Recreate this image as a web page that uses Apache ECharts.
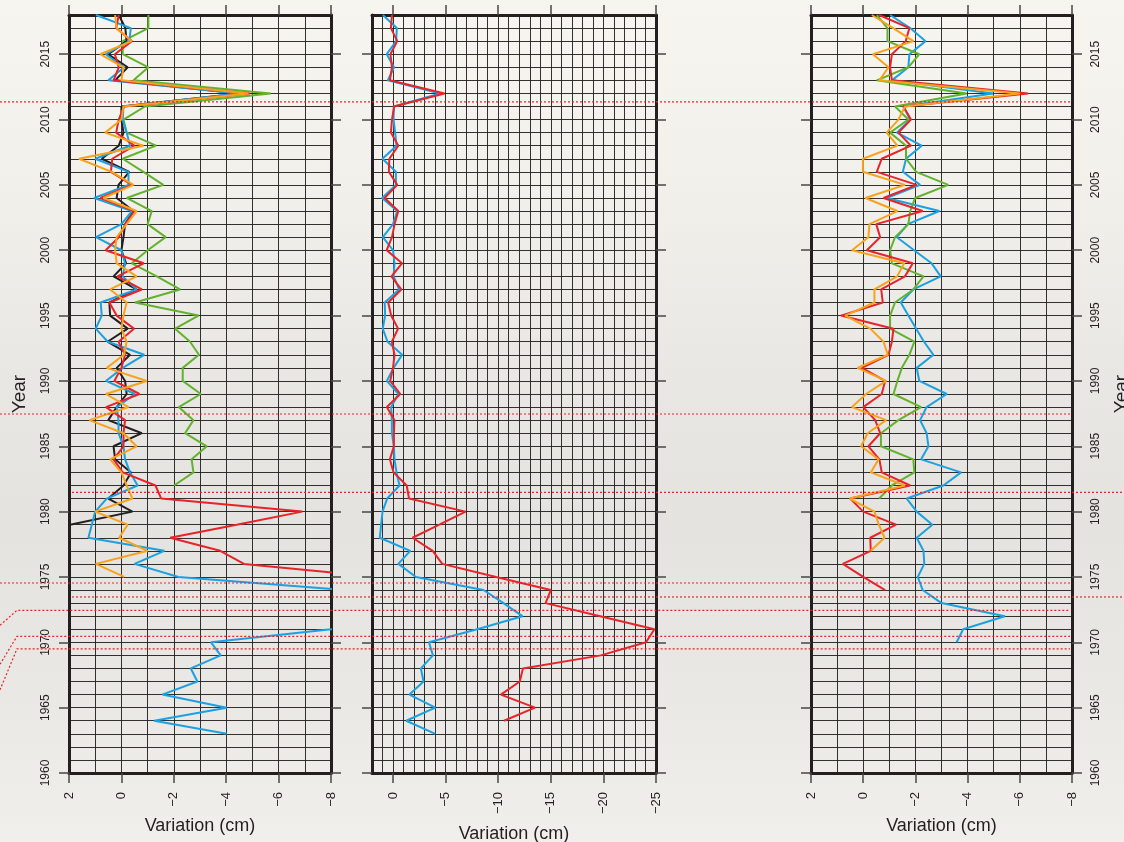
<!DOCTYPE html>
<html><head><meta charset="utf-8">
<script src="https://cdn.jsdelivr.net/npm/echarts@6/dist/echarts.min.js"></script>
<style>
html,body{margin:0;padding:0;}
#chart{width:1124px;height:842px;background:linear-gradient(180deg,#f7f5f0 0%,#f2f0eb 22%,#e9e7e3 45%,#e5e3df 62%,#eae8e4 82%,#f1efeb 100%);}
</style></head><body><div id="chart"></div>
<script>
// Years, top (2018) to bottom (1963); series values are aligned by index
const years = [2018,2017,2016,2015,2014,2013,2012,2011,2010,2009,
  2008,2007,2006,2005,2004,2003,2002,2001,2000,1999,
  1998,1997,1996,1995,1994,1993,1992,1991,1990,1989,
  1988,1987,1986,1985,1984,1983,1982,1981,1980,1979,
  1978,1977,1976,1975,1974,1973,1972,1971,1970,1969,
  1968,1967,1966,1965,1964,1963];

// Panels 1 & 2 (same series, different scale)
const blueA = [0.97,-0.36,-0.3,0.6,-0.1,0.5,-4.5,-0.08,-0.05,-0.2,
  -0.33,1.0,-0.27,-0.27,1.04,-0.4,0,0.97,0,-0.14,
  -0.05,-0.58,0.79,0.75,0.98,0.52,-0.87,-0.05,0.59,-0.52,
  0.18,0.11,0.11,-0.08,-0.14,-0.33,-0.62,0.56,1.0,1.13,
  1.26,-1.64,-0.5,-2.18,-8.6,-10.5,-12.3,-8.0,-3.42,-3.79,
  -2.65,-2.9,-1.56,-4.02,-1.25,-4.02];
const redA = [0.1,0.2,-0.4,0.25,0.1,0.3,-4.9,-0.1,0.1,0.2,
  -0.5,0.35,0.4,-0.4,0.8,-0.5,-0.15,0.1,0.6,-0.85,
  0.15,-0.78,0.46,0.18,-0.48,0.11,-0.14,0,0.27,-0.69,
  0.59,-0.14,-0.08,-0.08,0.3,-0.05,-1.3,-1.52,-6.9,-4.4,
  -1.86,-3.77,-4.68,-9.8,-15.0,-14.5,-19.7,-24.85,-24.05,-19.75,
  -12.35,-12.05,-10.25,-13.5,-10.55];
// Panel 1 only
const black1 = [0.1,-0.15,-0.2,0.5,-0.24,0.24,-4.5,0,0,-0.08,
  0.1,0.75,-0.3,0.11,0.18,-0.46,-0.14,-0.08,0,-0.18,
  0.3,-0.58,0.46,0.43,-0.24,0.53,-0.33,0.18,-0.14,-0.2,
  0.18,0.5,-0.78,0.3,0.24,-0.37,-0.08,0.5,-0.42,1.96];
const orange1 = [0.24,0.18,-0.39,0.81,-0.08,0,-4.85,-0.08,0,0.62,
  -0.84,1.62,0.37,-0.46,0.69,-0.58,-0.2,0.18,0.24,0.18,
  -0.58,0.43,-0.2,-0.08,0,-0.2,-0.1,0.56,-0.97,0.59,
  -0.27,1.22,-0.08,-0.58,0.43,0,-0.2,-0.42,1.0,-0.24,
  0.09,-1.0,0.98,-0.11];
const green1 = [-1.03,-1.03,-0.05,-0.05,-1.03,-0.46,-5.7,-0.9,-0.08,-0.2,
  -1.32,-0.05,-0.84,-1.6,-0.2,-1.16,-1.0,-1.69,-1.0,-0.4,
  -1.35,-2.24,-0.52,-2.94,-2.05,-2.62,-2.96,-2.34,-2.34,-3.03,
  -2.19,-2.75,-2.43,-3.26,-2.68,-2.75,-2.01];
// Panel 3
const blue3 = [-1.03,-1.8,-2.39,-1.77,-1.73,-1.1,-4.98,-1.54,-1.8,-1.29,
  -2.24,-1.64,-1.52,-2.18,-0.9,-2.92,-1.71,-1.29,-1.95,-2.62,
  -2.97,-1.92,-1.44,-1.73,-2.03,-2.33,-2.69,-2.05,-2.15,-3.2,
  -2.43,-2.18,-2.43,-2.5,-2.22,-3.75,-3.07,-1.67,-2.05,-2.65,
  -2.05,-2.31,-2.34,-2.09,-2.28,-3.0,-5.43,-3.83,-3.58];
const red3 = [-0.61,-1.77,-1.63,-1.1,-1.03,-1.1,-6.32,-1.54,-1.83,-1.35,
  -1.83,-0.71,-0.52,-2.05,-0.78,-2.28,-0.5,-0.65,-0.14,-1.9,
  -1.6,-0.69,-0.75,0.85,-1.16,-1.1,-0.97,0.05,-0.84,-0.71,
  0,-0.46,-0.65,-0.2,-0.62,-0.71,-1.8,0.5,0,-1.26,
  -0.27,-0.29,0.78,0,-0.84];
const orange3 = [-0.33,-1.15,-1.92,-0.37,-0.97,-0.62,-6.0,-1.6,-1.35,-0.9,
  -1.31,0.01,0.01,-1.6,-0.08,-1.31,-0.24,-0.2,0.43,-1.57,
  -1.3,-0.43,-0.43,0.69,-0.27,-0.78,-0.94,0.22,-0.88,-0.11,
  0.43,-0.88,-0.17,0.08,-0.59,-0.29,-1.6,0.52,-0.43,-0.6,
  -0.82,-0.29];
const green3 = [-0.52,-0.93,-0.93,-2.15,-1.73,-0.52,-3.96,-1.22,-1.73,-1.03,
  -1.64,-1.64,-2.03,-3.26,-1.99,-1.8,-1.73,-1.22,-1.03,-1.1,
  -2.31,-1.92,-1.22,-1.03,-1.03,-1.96,-1.77,-1.48,-1.31,-1.16,
  -2.22,-1.35,-0.68,-0.68,-1.92,-1.96,-1.1,-0.61];

// Tick labels
const xTicksSmall = [2,0,-2,-4,-6,-8];
const xTicksBig = [0,-5,-10,-15,-20,-25];
const yTicks = [1960,1965,1970,1975,1980,1985,1990,1995,2000,2005,2010,2015];

// Event lines (years) – dotted red annotations
const eventsFull = [2011.35, 1987.47, 1974.54];
const eventsLong = [1981.48, 1973.47];
const eventsBent = [1972.45, 1970.46, 1969.5];
const bentDrop = [15, 28, 41];

const INK = '#231f20';
const C = {blue:'#1ba1e2', red:'#e8232a', orange:'#f7a21b', green:'#62b22f', black:'#231f20'};
const FONT = 'Liberation Sans, Arial, Helvetica, sans-serif';
const fmt = v => String(v).replace('-', '\u2212');

function pairs(arr){
  const out = [];
  arr.forEach((v,i)=>{ if (v !== null && v !== undefined) out.push([v, years[i]]); });
  return out;
}

const grids = [
  {left:69, top:15, width:262, height:758},
  {left:372, top:15, width:284, height:758},
  {left:811, top:15, width:261, height:758}
];

function xAx(grid, pos, min, ticks, withLabel, nameGap){
  return {
    type:'value', gridIndex:grid, position:pos, min:min, max:2, interval:1, inverse:true,
    axisLine:{show:true, onZero:false, lineStyle:{color:INK, width:3}},
    axisTick:{show:true, inside:false, length:10, customValues:ticks, lineStyle:{color:'#4a4645', width:1.5}},
    axisLabel:{show:withLabel, customValues:ticks, rotate:90, margin:19, color:INK, fontSize:13, fontFamily:FONT, formatter:fmt},
    splitLine:{show:false},
    name: withLabel ? 'Variation (cm)' : '',
    nameLocation:'middle', nameGap:nameGap,
    nameTextStyle:{color:INK, fontSize:18, fontFamily:FONT}
  };
}
function xGridAx(grid, min){
  return {
    type:'value', gridIndex:grid, position:'bottom', min:min, max:2, interval:1, inverse:true,
    axisLine:{show:false, onZero:false}, axisTick:{show:false}, axisLabel:{show:false},
    splitLine:{show:true, lineStyle:{color:INK, width:1, opacity:0.92}}
  };
}
function yAx(grid, pos, withLabel){
  return {
    type:'value', gridIndex:grid, position:pos, min:1960, max:2018, interval:1,
    axisLine:{show:true, onZero:false, lineStyle:{color:INK, width:3}},
    axisTick:{show:true, inside:false, length:10, customValues:yTicks, lineStyle:{color:'#4a4645', width:1.5}},
    axisLabel:{show:withLabel, customValues:yTicks, rotate:90, margin:pos==='left'?17:18, color:INK, fontSize:12, fontFamily:FONT, formatter:v=>String(v)},
    splitLine:{show:false},
    name: withLabel ? 'Year' : '',
    nameLocation:'middle', nameGap:40,
    nameTextStyle:{color:INK, fontSize:19, fontFamily:FONT}
  };
}
function yGridAx(grid){
  return {
    type:'value', gridIndex:grid, position:'left', min:1960, max:2018, interval:1,
    axisLine:{show:false, onZero:false}, axisTick:{show:false}, axisLabel:{show:false},
    splitLine:{show:true, lineStyle:{color:INK, width:1, opacity:0.92}}
  };
}

function line(data, color, xi, yi){
  return {type:'line', xAxisIndex:xi, yAxisIndex:yi, data:pairs(data), symbol:'none',
    clip:true, silent:true, animation:false, lineStyle:{color:color, width:2}};
}

const chart = echarts.init(document.getElementById('chart'), null, {renderer:'canvas'});
chart.setOption({
  animation:false,
  backgroundColor:'transparent',
  grid: grids.map(g=>Object.assign({outerBoundsMode:'none', containLabel:false}, g)),
  xAxis:[
    xAx(0,'bottom',-8,xTicksSmall,true,44), xAx(0,'top',-8,xTicksSmall,false,0),
    xAx(1,'bottom',-25,xTicksBig,true,52), xAx(1,'top',-25,xTicksBig,false,0),
    xAx(2,'bottom',-8,xTicksSmall,true,44), xAx(2,'top',-8,xTicksSmall,false,0),
    xGridAx(0,-8), xGridAx(1,-25), xGridAx(2,-8)
  ],
  yAxis:[
    yAx(0,'left',true), yAx(0,'right',false),
    yAx(1,'left',false), yAx(1,'right',false),
    yAx(2,'left',false), yAx(2,'right',true),
    yGridAx(0), yGridAx(1), yGridAx(2)
  ],
  series:[
    line(green1, C.green, 0, 0),
    line(black1, C.black, 0, 0),
    line(blueA, C.blue, 0, 0),
    line(redA, C.red, 0, 0),
    line(orange1, C.orange, 0, 0),
    line(blueA, C.blue, 2, 2),
    line(redA, C.red, 2, 2),
    line(blue3, C.blue, 4, 4),
    line(green3, C.green, 4, 4),
    line(red3, C.red, 4, 4),
    line(orange3, C.orange, 4, 4)
  ]
});

// dotted event lines positioned through the year axis
const yPix = yr => chart.convertToPixel({yAxisIndex:0}, yr);
const dot = {stroke:'#e8232a', lineWidth:1.2, lineDash:[2,2], fill:null};
const gfx = [];
eventsFull.forEach(yr=>{
  const y = yPix(yr);
  gfx.push({type:'polyline', silent:true, z:100, shape:{points:[[0,y],[1070,y]]}, style:dot});
});
eventsLong.forEach(yr=>{
  const y = yPix(yr);
  gfx.push({type:'polyline', silent:true, z:100, shape:{points:[[72,y],[1124,y]]}, style:dot});
});
eventsBent.forEach((yr,i)=>{
  const y = yPix(yr);
  gfx.push({type:'polyline', silent:true, z:100, shape:{points:[[0,y+bentDrop[i]],[17,y],[1070,y]]}, style:dot});
});
chart.setOption({graphic:gfx});
</script></body></html>
